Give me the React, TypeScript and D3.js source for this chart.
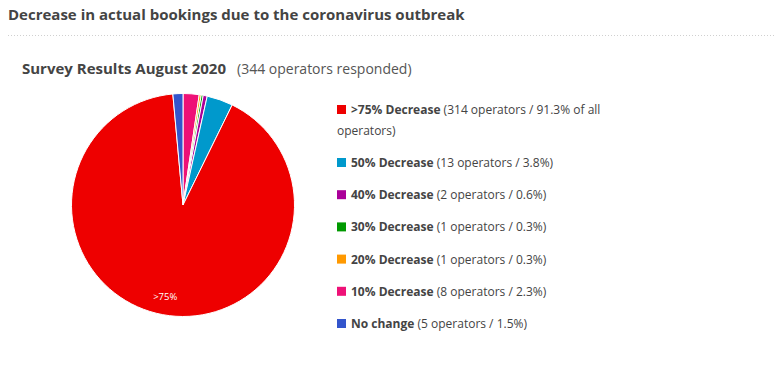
import React, { useRef, useEffect } from 'react';
import * as d3 from 'd3';

// Legend order (top to bottom)
const labels = ['>75% Decrease', '50% Decrease', '40% Decrease', '30% Decrease', '20% Decrease', '10% Decrease', 'No change'];
const shortLabels = ['>75%', '50%', '40%', '30%', '20%', '10%', 'No change'];
const counts = [314, 13, 2, 1, 1, 8, 5];
const percents = ['91.3', '3.8', '0.6', '0.3', '0.3', '2.3', '1.5'];
const colors = ['#ee0000', '#0099cc', '#aa0099', '#009900', '#ff9900', '#ee1177', '#3355cc'];
// Clockwise drawing order from 12 o'clock (indexes into the arrays above)
const pieOrder = [5, 4, 3, 2, 1, 0, 6];

const W = 780;
const H = 365;
const FONT = '"Open Sans", "Noto Sans", sans-serif';

export default function App() {
    const svgRef = useRef<SVGSVGElement>(null);

    useEffect(() => {
        if (!svgRef.current) return;
        const svg = d3.select(svgRef.current);
        svg.selectAll('*').remove();

        // Header
        svg.append('text')
            .attr('x', 8).attr('y', 20)
            .attr('font-family', FONT).attr('font-size', 15).attr('font-weight', 700)
            .attr('fill', '#444')
            .text('Decrease in actual bookings due to the coronavirus outbreak');

        svg.append('line')
            .attr('x1', 8).attr('x2', 776).attr('y1', 35.5).attr('y2', 35.5)
            .attr('stroke', '#d0d0d0').attr('stroke-dasharray', '1,2');

        const sub = svg.append('text')
            .attr('x', 22).attr('y', 74)
            .attr('font-family', FONT)
            .attr('fill', '#444');
        sub.append('tspan').attr('font-weight', 700).attr('font-size', 15).text('Survey Results August 2020');
        sub.append('tspan').attr('x', 237).attr('font-size', 14).attr('fill', '#555').text('(344 operators responded)');

        // Pie
        const cx = 183, cy = 205, r = 111.5;
        const data = pieOrder.map(i => ({ i, v: counts[i] }));
        const pie = d3.pie<{ i: number; v: number }>().value(d => d.v).sort(null);
        const arcs = pie(data);
        const arc = d3.arc<d3.PieArcDatum<{ i: number; v: number }>>().innerRadius(0).outerRadius(r);
        const g = svg.append('g').attr('transform', `translate(${cx},${cy})`);
        g.selectAll('path').data(arcs).join('path')
            .attr('d', arc)
            .attr('fill', d => colors[d.data.i])
            .attr('stroke', '#fff').attr('stroke-width', 1);

        const labelArc = d3.arc<d3.PieArcDatum<{ i: number; v: number }>>().innerRadius(r * 0.83).outerRadius(r * 0.83);
        arcs.filter(a => a.data.i === 0).forEach(a => {
            const [lx, ly] = labelArc.centroid(a);
            g.append('text')
                .attr('x', lx - 1).attr('y', ly + 3.5)
                .attr('text-anchor', 'middle')
                .attr('font-family', FONT).attr('font-size', 9.5)
                .attr('fill', '#fff')
                .text(shortLabels[a.data.i]);
        });

        // Legend
        const lx = 337, tx = 351, maxW = 612 - tx;
        const rowY = d3.scalePoint<number>().domain(d3.range(1, labels.length)).range([163, 324]);
        const ctx = document.createElement('canvas').getContext('2d')!;
        labels.forEach((lab, i) => {
            const y = i === 0 ? 110 : rowY(i)!;
            svg.append('rect')
                .attr('x', lx).attr('y', y - 5).attr('width', 9).attr('height', 9)
                .attr('fill', colors[i]);
            const rest = i === 0
                ? ` (${counts[i]} operators / ${percents[i]}% of all operators)`
                : ` (${counts[i]} operators / ${percents[i]}%)`;
            const t = svg.append('text')
                .attr('font-family', FONT).attr('font-size', 12).attr('fill', '#444');
            ctx.font = `700 12px ${FONT}`;
            const boldW = ctx.measureText(lab).width;
            ctx.font = `400 12px ${FONT}`;
            // simple word wrap
            const words = rest.trim().split(' ');
            const lines: string[] = [];
            let cur = '';
            let avail = maxW - boldW - 4;
            words.forEach(w => {
                const test = cur ? cur + ' ' + w : w;
                if (ctx.measureText(test).width > avail && cur) {
                    lines.push(cur);
                    cur = w;
                    avail = 612 - lx;
                } else cur = test;
            });
            lines.push(cur);
            t.append('tspan').attr('x', tx).attr('y', y + 4).attr('font-weight', 700).text(lab);
            t.append('tspan').text(' ' + lines[0]);
            lines.slice(1).forEach((ln, k) => {
                t.append('tspan').attr('x', lx).attr('y', y + 4 + 21 * (k + 1)).text(ln);
            });
        });
    }, []);

    return (
        <svg
            ref={svgRef}
            width={W}
            height={H}
            style={{ position: 'absolute', left: 0, top: 0, background: '#fff' }}
        />
    );
}
